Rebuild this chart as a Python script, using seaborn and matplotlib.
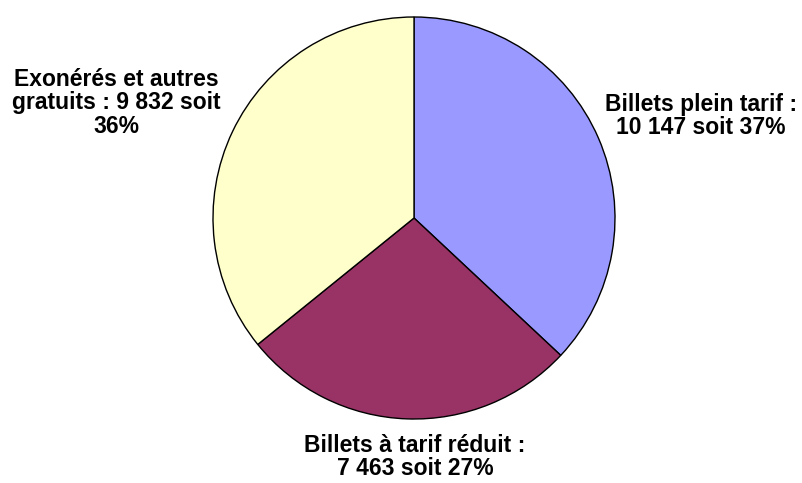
import matplotlib
matplotlib.use("Agg")
import matplotlib.pyplot as plt
import seaborn as sns

# Billets vendus par catégorie
categories = ["Billets plein tarif", "Billets à tarif réduit", "Exonérés et autres gratuits"]
values = [10147, 7463, 9832]
colors = sns.color_palette(["#9999FF", "#993366", "#FFFFCC"])

sns.set_style("white")
plt.rcParams['font.family'] = ['Liberation Sans', 'DejaVu Sans']

W, H = 803, 483
fig = plt.figure(figsize=(W / 100, H / 100), dpi=100)

# pie: center (414, 218) px, radius 201 px
cx, cy, r = 414, 218, 201
ax = fig.add_axes([(cx - r) / W, (H - cy - r) / H, 2 * r / W, 2 * r / H])
ax.pie(values, colors=colors, startangle=90, counterclock=False,
       wedgeprops=dict(edgecolor="black", linewidth=1))
ax.set_xlim(-1, 1)
ax.set_ylim(-1, 1)
ax.set_aspect("equal")
ax.axis("off")

total = sum(values)


def fmt(n):
    return f"{n:,}".replace(",", " ")


pct = [round(v / total * 100) for v in values]
labels = [
    f"{categories[0]} :\n{fmt(values[0])} soit {pct[0]}%",
    f"{categories[1]} :\n{fmt(values[1])} soit {pct[1]}%",
    "Exonérés et autres\ngratuits : " + f"{fmt(values[2])} soit\n{pct[2]}%",
]
# label centres in pixels
spots = [(701, 116), (415, 457), (116, 103)]
for lab, (x, y) in zip(labels, spots):
    fig.text(x / W, 1 - y / H, lab, ha="center", va="center", fontsize=16.5,
             fontweight="bold", linespacing=1.05, color="black")

fig.savefig("out.png", dpi=100)
